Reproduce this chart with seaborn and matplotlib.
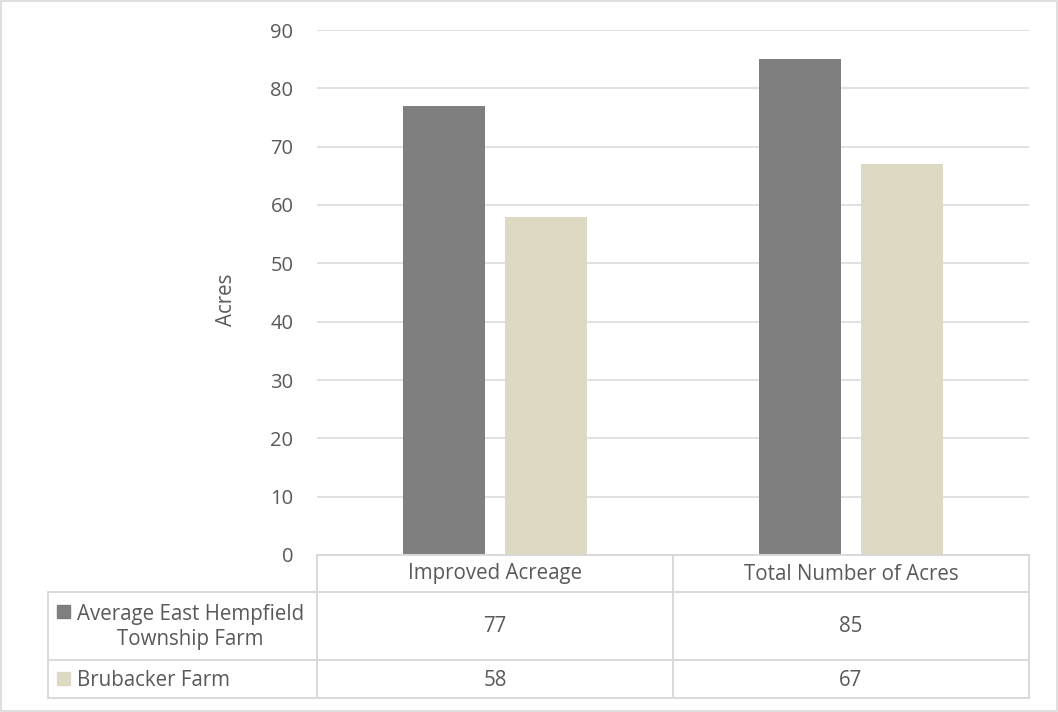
import matplotlib
matplotlib.use("Agg")
import matplotlib.pyplot as plt
import seaborn as sns
import pandas as pd
from matplotlib.lines import Line2D
from matplotlib.patches import Rectangle
from matplotlib.transforms import blended_transform_factory

# data
categories = ["Improved Acreage", "Total Number of Acres"]
series = ["Average East Hempfield\nTownship Farm", "Brubacker Farm"]
avg_farm = [77, 85]
brubacker = [58, 67]
yticks = [0, 10, 20, 30, 40, 50, 60, 70, 80, 90]
colors = ["#7f7f7f", "#ddd9c3"]

df = pd.DataFrame({
    "category": categories * 2,
    "series": [series[0]] * 2 + [series[1]] * 2,
    "acres": avg_farm + brubacker,
})

W, H = 1058, 712
TXT = "#595959"
GRID = "#d9d9d9"
FS = 14.8

sns.set_theme(style="white")
plt.rcParams['font.family'] = ['Open Sans', 'DejaVu Sans']

fig = plt.figure(figsize=(W / 100, H / 100), dpi=100)


def fx(x):
    return x / W


def fy(y):
    return 1 - y / H


# plot area in pixels: left 317, right 1029, top 30 (=90), bottom 555 (=0)
ax = fig.add_axes([fx(317), fy(555), (1029 - 317) / W, (555 - 30) / H])
sns.barplot(data=df, x="category", y="acres", hue="series", order=categories,
            hue_order=series, palette=colors, width=0.57, gap=0.19,
            saturation=1, legend=False, linewidth=0, ax=ax)

ax.set_ylim(0, 90)
ax.set_yticks(yticks)
ax.set_xlim(-0.5, 1.5)
ax.set_xlabel("")
ax.set_ylabel("")
ax.set_xticks([])
ax.yaxis.grid(True, color=GRID, linewidth=1.1)
ax.set_axisbelow(True)
for s in ["top", "right", "left"]:
    ax.spines[s].set_visible(False)
ax.spines["bottom"].set_color(GRID)
ax.spines["bottom"].set_linewidth(1.4)
ax.tick_params(axis="y", length=0, pad=17, labelsize=14.5, labelcolor=TXT)

fig.text(fx(226), fy(300), "Acres", rotation=90, ha="center", va="center",
         fontsize=FS, color=TXT)

# data table under the chart
def hline(y, x0, x1):
    fig.add_artist(Line2D([fx(x0), fx(x1)], [fy(y), fy(y)], color=GRID, lw=1.4))


def vline(x, y0, y1):
    fig.add_artist(Line2D([fx(x), fx(x)], [fy(y0), fy(y1)], color=GRID, lw=1.4))


for y in [592, 660, 698]:
    hline(y, 48, 1029)
vline(48, 592, 698)
for x in [317, 673, 1029]:
    vline(x, 555, 698)

tr = blended_transform_factory(ax.transData, fig.transFigure)
for i, cat in enumerate(categories):
    fig.text(i, fy(574), cat, transform=tr, ha="center", va="center",
             fontsize=FS, color=TXT)
    fig.text(i, fy(627), str(avg_farm[i]), transform=tr, ha="center",
             va="center", fontsize=FS, color=TXT)
    fig.text(i, fy(680), str(brubacker[i]), transform=tr, ha="center",
             va="center", fontsize=FS, color=TXT)

# row labels with legend keys
fig.add_artist(Rectangle((fx(57), fy(618)), 13 / W, 13 / H, color=colors[0]))
fig.text(fx(77), fy(627), series[0], ha="left", va="center",
         multialignment="center", fontsize=FS, color=TXT, linespacing=1.25)
fig.add_artist(Rectangle((fx(57), fy(685)), 13 / W, 13 / H, color=colors[1]))
fig.text(fx(77), fy(680), series[1], ha="left", va="center",
         fontsize=FS, color=TXT)

# outer chart border
fig.add_artist(Rectangle((fx(1), fy(711)), 1056 / W, 710 / H, fill=False,
                         edgecolor=GRID, lw=1.2))

fig.savefig("out.png", dpi=100)
